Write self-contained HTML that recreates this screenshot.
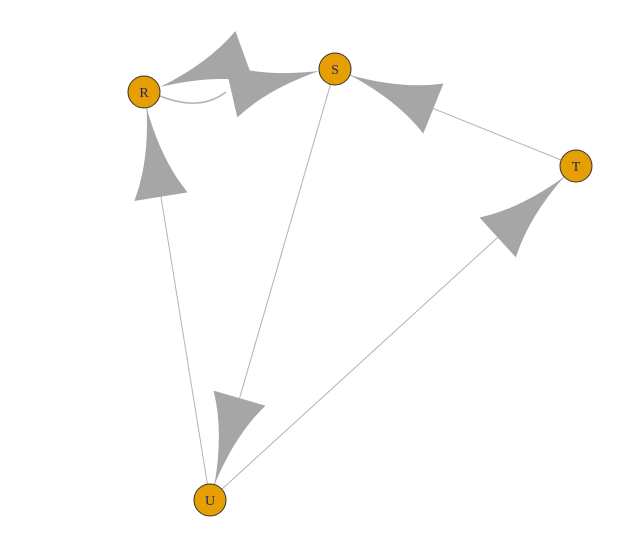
<!DOCTYPE html>
<html><head><meta charset="utf-8"><style>
html,body{margin:0;padding:0;background:#fff;}
svg{display:block;}
</style></head><body>
<svg id="g" width="644" height="547" viewBox="0 0 644 547" xmlns="http://www.w3.org/2000/svg">
<g id="edges"></g>
<g id="arrows"></g>
<g id="nodes"></g>
</svg>
<script>
const nodeNames = ["R","S","T","U"];
const nodeX = [144,335,576,210];
const nodeY = [92,69,166,500];
const edgeFrom = ["U","S","U","T"];
const edgeTo = ["R","U","T","S"];
const NS="http://www.w3.org/2000/svg";
const R=16, AL=90, AW=27;
const eg=document.getElementById('edges'), ag=document.getElementById('arrows'), ng=document.getElementById('nodes');
function idx(n){return nodeNames.indexOf(n);}
function arrow(tx,ty,ux,uy,name){
  const px=-uy, py=ux;
  const bx=tx-ux*AL, by=ty-uy*AL;
  const lx=bx+px*AW, ly=by+py*AW, rx=bx-px*AW, ry=by-py*AW;
  const cx=tx-ux*AL*0.6, cy=ty-uy*AL*0.6;
  const c1x=cx+px*6, c1y=cy+py*6, c2x=cx-px*6, c2y=cy-py*6;
  const p=document.createElementNS(NS,'path');
  p.setAttribute('d',`M${tx},${ty} Q${c1x},${c1y} ${lx},${ly} L${rx},${ry} Q${c2x},${c2y} ${tx},${ty} Z`);
  p.setAttribute('fill','#a6a6a6');
  
  
  ag.appendChild(p);
}
for(let i=0;i<edgeFrom.length;i++){
  const a=idx(edgeFrom[i]), b=idx(edgeTo[i]);
  const dx=nodeX[b]-nodeX[a], dy=nodeY[b]-nodeY[a], d=Math.hypot(dx,dy);
  const ux=dx/d, uy=dy/d;
  const l=document.createElementNS(NS,'line');
  l.setAttribute('x1',nodeX[a]+ux*R); l.setAttribute('y1',nodeY[a]+uy*R);
  l.setAttribute('x2',nodeX[b]-ux*R); l.setAttribute('y2',nodeY[b]-uy*R);
  l.setAttribute('stroke','#b3b3b3'); l.setAttribute('stroke-width','1');
  
  
  eg.appendChild(l);
  arrow(nodeX[b]-ux*R, nodeY[b]-uy*R, ux, uy, 'arrowhead-'+edgeFrom[i]+'-'+edgeTo[i]);
}
// curved R<->S edges
const arc=document.createElementNS(NS,'path');
arc.setAttribute('d','M160,96 Q200,112 226,92');
arc.setAttribute('fill','none'); arc.setAttribute('stroke','#b3b3b3'); arc.setAttribute('stroke-width','1.5');


eg.appendChild(arc);
(function(){
  let dx=240-160, dy=58-87, d=Math.hypot(dx,dy);
  arrow(160,87,-dx/d,-dy/d,'arrowhead-S-R');
  dx=319-236; dy=71-90; d=Math.hypot(dx,dy);
  arrow(319,71,dx/d,dy/d,'arrowhead-R-S');
})();
for(let i=0;i<nodeNames.length;i++){
  const c=document.createElementNS(NS,'circle');
  c.setAttribute('cx',nodeX[i]); c.setAttribute('cy',nodeY[i]); c.setAttribute('r',R);
  c.setAttribute('fill','#E69F00'); c.setAttribute('stroke','#333'); c.setAttribute('stroke-width','1');
  
  
  ng.appendChild(c);
  const t=document.createElementNS(NS,'text');
  t.setAttribute('x',nodeX[i]); t.setAttribute('y',nodeY[i]+5);
  t.setAttribute('text-anchor','middle'); t.setAttribute('font-family','"Liberation Serif", serif');
  t.setAttribute('font-size','14'); t.setAttribute('fill','#2a1f6e');
  t.textContent=nodeNames[i];
  
  
  ng.appendChild(t);
}
</script>
</body></html>
